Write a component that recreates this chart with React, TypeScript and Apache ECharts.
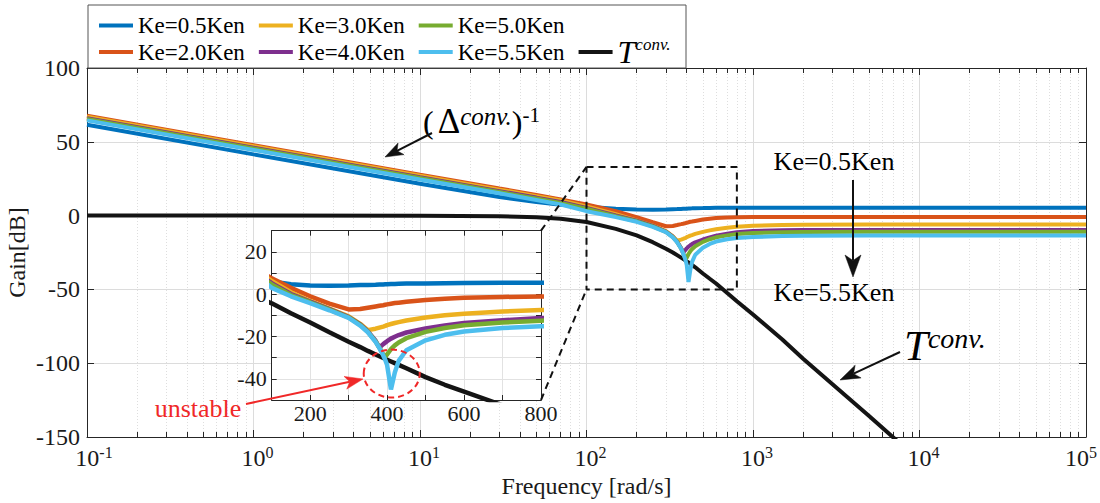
import React, { useEffect, useRef } from 'react';
import * as echarts from 'echarts';

// ---------------- data ----------------
const freq = [0.1, 1, 10, 30, 50, 70, 100, 150, 200, 250, 300, 330, 350, 370, 380, 390, 395, 400, 410, 420, 430, 450, 500, 550, 600, 700, 800, 1000, 1500, 2000, 5000, 10000, 100000];

const ke05 = [61.5, 41.5, 21.6, 12.6, 9.2, 7.4, 6.0, 4.7, 4.1, 4.0, 4.1, 4.3, 4.4, 4.5, 4.6, 4.6, 4.7, 4.7, 4.8, 4.8, 4.9, 5.0, 5.1, 5.2, 5.3, 5.4, 5.4, 5.4, 5.4, 5.4, 5.4, 5.4, 5.4];
const ke20 = [67.7, 47.7, 27.7, 18.3, 14.0, 11.0, 7.5, 3.0, -1.0, -4.5, -7.2, -7.0, -6.4, -5.8, -5.5, -5.2, -5.0, -4.8, -4.5, -4.2, -4.0, -3.6, -2.7, -2.1, -1.7, -1.3, -1.1, -1.0, -1.0, -1.0, -1.0, -1.0, -1.0];
const ke30 = [67.0, 47.0, 27.0, 17.6, 13.2, 10.2, 6.2, 0.9, -3.2, -6.8, -10.5, -14.0, -17.0, -16.3, -15.8, -15.3, -15.0, -14.6, -14.1, -13.6, -13.2, -12.4, -11.0, -10.0, -9.2, -8.2, -7.5, -6.9, -6.4, -6.2, -6.1, -6.1, -6.1];
const ke40 = [66.0, 46.0, 26.0, 16.6, 12.2, 9.2, 5.2, 0.1, -3.5, -7.0, -10.8, -14.3, -17.6, -22.0, -25.2, -23.6, -22.9, -22.2, -21.0, -20.1, -19.3, -18.1, -16.2, -14.8, -13.6, -12.3, -11.3, -10.5, -10.0, -9.8, -9.7, -9.7, -9.7];
const ke50 = [65.5, 45.5, 25.5, 16.0, 11.6, 8.5, 4.6, -0.4, -3.8, -7.3, -11.0, -14.5, -17.8, -22.3, -25.3, -28.5, -29.6, -28.4, -26.0, -24.2, -22.8, -20.8, -17.8, -16.0, -14.7, -13.4, -12.5, -11.8, -11.3, -11.1, -11.0, -11.0, -11.0];
const ke55 = [64.5, 44.5, 24.5, 15.1, 10.6, 7.5, 3.0, -1.0, -4.2, -7.6, -11.2, -14.8, -18.0, -22.5, -25.5, -29.0, -31.0, -33.5, -45.0, -37.0, -31.5, -26.5, -21.8, -19.2, -17.6, -16.0, -15.2, -14.5, -13.9, -13.7, -13.5, -13.5, -13.5];
const tconv = [0, 0, -0.05, -0.4, -1.1, -2.2, -4.3, -9.0, -13.4, -18.0, -22.5, -25.0, -26.8, -28.5, -29.3, -30.1, -30.5, -31.0, -31.8, -32.6, -33.4, -35.0, -39.2, -42.8, -46.0, -52.5, -58.0, -67.0, -84.0, -97.0, -136.0, -166.0, null];

const seriesNames = ['Ke=0.5Ken', 'Ke=2.0Ken', 'Ke=3.0Ken', 'Ke=4.0Ken', 'Ke=5.0Ken', 'Ke=5.5Ken'];
const seriesValues = [ke05, ke20, ke30, ke40, ke50, ke55];
const seriesColors = ['#0072BD', '#D95319', '#EDB120', '#7E2F8E', '#77AC30', '#4DBEEE'];
const tName = 'Tconv';
const tColor = '#141414';

const legendRow1 = ['Ke=0.5Ken', 'Ke=3.0Ken', 'Ke=5.0Ken'];
const legendRow2 = ['Ke=2.0Ken', 'Ke=4.0Ken', 'Ke=5.5Ken', tName];

// main axes
const mainX = [0.1, 100000];
const mainY = [-150, 100];
const mainYStep = 50;
// inset axes
const insetX = [100, 800];
const insetXStep = 100;
const insetY = [-50, 30];
const insetYStep = 10;
// zoom rectangle in main plot
const zoomBoxY = [-50, 33];

const FONT = 'Liberation Serif';
const TXT = '#1a1a1a';
const AX = '#262626';

function pairs(vals: (number | null)[]) {
  return freq.map((f, i) => [f, vals[i]]);
}

function arrow(x1: number, y1: number, x2: number, y2: number, color: string, lw: number, hl: number, hw: number) {
  const dx = x2 - x1, dy = y2 - y1;
  const L = Math.hypot(dx, dy);
  const ux = dx / L, uy = dy / L;
  const bx = x2 - ux * hl, by = y2 - uy * hl;
  const px = -uy, py = ux;
  const nx = x2 - ux * hl * 0.75, ny = y2 - uy * hl * 0.75;
  return [
    { type: 'line', z: 100, shape: { x1, y1, x2: nx, y2: ny }, style: { stroke: color, lineWidth: lw } },
    {
      type: 'polygon', z: 100,
      shape: { points: [[x2, y2], [bx + px * hw / 2, by + py * hw / 2], [nx, ny], [bx - px * hw / 2, by - py * hw / 2]] },
      style: { fill: color, stroke: color, lineWidth: 0.5 },
    },
  ];
}

export default function App() {
  const ref = useRef<HTMLDivElement>(null);
  useEffect(() => {
    const chart = echarts.init(ref.current!, null, { renderer: 'svg' });

    const logLabel = (v: number) => {
      const e = Math.round(Math.log10(v));
      if (e < 0) return `{bn|10}{s|${e}}`;
      if (e >= 5) return `{b|10}{se|${e}}`;
      return `{bp|10}{s|${e}}`;
    };

    const mainSeries: any[] = [];
    const insetSeries: any[] = [];
    mainSeries.push({
      name: tName, type: 'line', xAxisIndex: 0, yAxisIndex: 0, data: pairs(tconv), symbol: 'none',
      lineStyle: { width: 4, color: tColor }, itemStyle: { color: tColor }, z: 2,
    });
    insetSeries.push({
      name: tName, type: 'line', xAxisIndex: 2, yAxisIndex: 2, data: pairs(tconv), symbol: 'none',
      lineStyle: { width: 4.5, color: tColor }, itemStyle: { color: tColor }, z: 4,
    });
    seriesNames.forEach((n, i) => {
      mainSeries.push({
        name: n, type: 'line', xAxisIndex: 0, yAxisIndex: 0, data: pairs(seriesValues[i]), symbol: 'none',
        lineStyle: { width: 4, color: seriesColors[i] }, itemStyle: { color: seriesColors[i] }, z: 3,
      });
      insetSeries.push({
        name: n, type: 'line', xAxisIndex: 2, yAxisIndex: 2, data: pairs(seriesValues[i]), symbol: 'none',
        lineStyle: { width: 4.5, color: seriesColors[i] }, itemStyle: { color: seriesColors[i] }, z: 5,
      });
    });
    const zoomRect = {
      name: 'zoom', type: 'line', xAxisIndex: 0, yAxisIndex: 0, symbol: 'none', z: 8,
      data: [[insetX[0], zoomBoxY[1]], [insetX[1], zoomBoxY[1]], [insetX[1], zoomBoxY[0]], [insetX[0], zoomBoxY[0]], [insetX[0], zoomBoxY[1]]],
      lineStyle: { width: 2, color: '#111', type: [7, 5] }, silent: true,
    };

    const legendText = {
      fontFamily: FONT, fontSize: 23, color: '#000',
      rich: {
        t: { fontFamily: FONT, fontSize: 32, fontStyle: 'italic', color: '#000' },
        c: { fontFamily: FONT, fontSize: 17, fontStyle: 'italic', color: '#000', verticalAlign: 'top' },
      },
    };
    const legendCommon = {
      orient: 'horizontal', left: 99, padding: 0, itemWidth: 34, itemHeight: 4, itemGap: 14, icon: 'rect',
      textStyle: legendText, selectedMode: false,
      formatter: (name: string) => (name === tName ? '{t|T}{c|conv.}' : name),
    };

    const tickRich = {
      b: { fontFamily: FONT, fontSize: 24, color: TXT, lineHeight: 28 },
      bp: { fontFamily: FONT, fontSize: 24, color: TXT, lineHeight: 28, padding: [0, 0, 0, 8] },
      bn: { fontFamily: FONT, fontSize: 24, color: TXT, lineHeight: 28, padding: [0, 0, 0, 14] },
      s: { fontFamily: FONT, fontSize: 16, color: TXT, verticalAlign: 'top', lineHeight: 18 },
      se: { fontFamily: FONT, fontSize: 16, color: TXT, verticalAlign: 'top', lineHeight: 18, padding: [0, 10, 0, 0] },
    };

    const option: any = {
      animation: false,
      backgroundColor: '#fff',
      legend: [
        { ...legendCommon, top: 14, data: legendRow1 },
        { ...legendCommon, top: 36, data: legendRow2 },
      ],
      grid: [
        { left: 87, top: 68, width: 999, height: 369, outerBoundsMode: 'none', containLabel: false },
        { left: 271.7, top: 230.7, width: 269.3, height: 169.3, show: true, backgroundColor: '#fff', borderWidth: 0, z: 1, outerBoundsMode: 'none', containLabel: false },
      ],
      xAxis: [
        {
          type: 'log', logBase: 10, gridIndex: 0, min: mainX[0], max: mainX[1], position: 'bottom',
          axisLine: { show: true, onZero: false, lineStyle: { color: AX, width: 1 } },
          axisTick: { show: true, inside: true, length: 7, lineStyle: { color: AX } },
          minorTick: { show: true, splitNumber: 9, length: 5, lineStyle: { color: AX } },
          splitLine: { show: true, lineStyle: { color: '#dcdcdc', width: 1 } },
          minorSplitLine: { show: true, lineStyle: { color: '#dedede', width: 1, type: [1, 2] } },
          axisLabel: {
            formatter: logLabel, margin: 7, color: TXT, showMinLabel: true, showMaxLabel: true, hideOverlap: false,
            rich: tickRich,
          },
          name: 'Frequency [rad/s]', nameLocation: 'middle', nameGap: 37, nameMoveOverlap: false,
          nameTextStyle: { fontFamily: FONT, fontSize: 24, color: TXT },
        },
        {
          type: 'log', logBase: 10, gridIndex: 0, min: mainX[0], max: mainX[1], position: 'top',
          axisLine: { show: true, onZero: false, lineStyle: { color: AX, width: 1 } },
          axisTick: { show: true, inside: true, length: 7, lineStyle: { color: AX } },
          minorTick: { show: true, splitNumber: 9, length: 5, lineStyle: { color: AX } },
          axisLabel: { show: false }, splitLine: { show: false }, minorSplitLine: { show: false },
        },
        {
          type: 'value', gridIndex: 1, min: insetX[0], max: insetX[1], interval: insetXStep, position: 'bottom', z: 2,
          axisLine: { show: true, onZero: false, lineStyle: { color: AX, width: 1 } },
          axisTick: { show: true, inside: true, length: 5, lineStyle: { color: AX } },
          splitLine: { show: true, lineStyle: { color: '#e2e2e2', width: 1 } },
          axisLabel: {
            formatter: (v: number) => (v % 200 === 0 ? String(v) : ''), margin: 2, color: TXT,
            fontFamily: FONT, fontSize: 22, showMinLabel: true, showMaxLabel: true, hideOverlap: false,
          },
        },
        {
          type: 'value', gridIndex: 1, min: insetX[0], max: insetX[1], interval: insetXStep, position: 'top', z: 2,
          axisLine: { show: true, onZero: false, lineStyle: { color: AX, width: 1 } },
          axisTick: { show: true, inside: true, length: 5, lineStyle: { color: AX } },
          axisLabel: { show: false }, splitLine: { show: false },
        },
      ],
      yAxis: [
        {
          type: 'value', gridIndex: 0, min: mainY[0], max: mainY[1], interval: mainYStep, position: 'left',
          axisLine: { show: true, onZero: false, lineStyle: { color: AX, width: 1 } },
          axisTick: { show: true, inside: true, length: 7, lineStyle: { color: AX } },
          splitLine: { show: true, lineStyle: { color: '#dcdcdc', width: 1 } },
          axisLabel: { margin: 7, color: TXT, fontFamily: FONT, fontSize: 24, showMinLabel: true, showMaxLabel: true, hideOverlap: false },
          name: 'Gain[dB]', nameLocation: 'middle', nameGap: 58, nameMoveOverlap: false,
          nameTextStyle: { fontFamily: FONT, fontSize: 24, color: TXT },
        },
        {
          type: 'value', gridIndex: 0, min: mainY[0], max: mainY[1], interval: mainYStep, position: 'right',
          axisLine: { show: true, onZero: false, lineStyle: { color: AX, width: 1 } },
          axisTick: { show: true, inside: true, length: 7, lineStyle: { color: AX } },
          axisLabel: { show: false }, splitLine: { show: false },
        },
        {
          type: 'value', gridIndex: 1, min: insetY[0], max: insetY[1], interval: insetYStep, position: 'left', z: 2,
          axisLine: { show: true, onZero: false, lineStyle: { color: AX, width: 1 } },
          axisTick: { show: true, inside: true, length: 5, lineStyle: { color: AX } },
          splitLine: { show: true, lineStyle: { color: '#e2e2e2', width: 1 } },
          axisLabel: {
            formatter: (v: number) => (v % 20 === 0 ? String(v) : ''), margin: 5, color: TXT,
            fontFamily: FONT, fontSize: 22, showMinLabel: true, showMaxLabel: true, hideOverlap: false,
          },
        },
        {
          type: 'value', gridIndex: 1, min: insetY[0], max: insetY[1], interval: insetYStep, position: 'right', z: 2,
          axisLine: { show: true, onZero: false, lineStyle: { color: AX, width: 1 } },
          axisTick: { show: true, inside: true, length: 5, lineStyle: { color: AX } },
          axisLabel: { show: false }, splitLine: { show: false },
        },
      ],
      series: [...mainSeries, zoomRect, ...insetSeries],
    };
    chart.setOption(option);

    // connectors from zoom box to inset
    const pBoxTL = chart.convertToPixel({ xAxisIndex: 0, yAxisIndex: 0 }, [insetX[0], zoomBoxY[1]]) as number[];
    const pBoxBL = chart.convertToPixel({ xAxisIndex: 0, yAxisIndex: 0 }, [insetX[0], zoomBoxY[0]]) as number[];
    const pInTR = chart.convertToPixel({ xAxisIndex: 2, yAxisIndex: 2 }, [insetX[1], insetY[1]]) as number[];
    const pInBR = chart.convertToPixel({ xAxisIndex: 2, yAxisIndex: 2 }, [insetX[1], insetY[0]]) as number[];
    const pCircle = chart.convertToPixel({ xAxisIndex: 2, yAxisIndex: 2 }, [412, -37.5]) as number[];

    const dashed = { stroke: '#111', lineWidth: 2, lineDash: [7, 5] };
    const red = '#f02828';
    const graphic: any[] = [
      { type: 'rect', z: 50, shape: { x: 88, y: 5, width: 598, height: 63 }, style: { fill: 'none', stroke: '#555', lineWidth: 1 } },
      { type: 'line', z: 60, shape: { x1: pInTR[0], y1: pInTR[1], x2: pBoxTL[0], y2: pBoxTL[1] }, style: dashed },
      { type: 'line', z: 60, shape: { x1: pInBR[0], y1: pInBR[1], x2: pBoxBL[0], y2: pBoxBL[1] }, style: dashed },
      {
        type: 'ellipse', z: 100, shape: { cx: pCircle[0], cy: pCircle[1], rx: 28, ry: 24 },
        style: { fill: 'none', stroke: red, lineWidth: 2, lineDash: [6, 4] },
      },
      {
        type: 'text', z: 100, x: 423, y: 104,
        style: {
          text: '{p|(}{d|Δ}{c|conv.}{p|)}{e|-1}', verticalAlign: 'top', align: 'left',
          rich: {
            p: { fontFamily: FONT, fontSize: 32, fill: '#000' },
            d: { fontFamily: FONT, fontSize: 35, fill: '#000', padding: [0, 0, 0, 4] },
            c: { fontFamily: FONT, fontSize: 25, fontStyle: 'italic', fill: '#000', verticalAlign: 'top' },
            e: { fontFamily: FONT, fontSize: 21, fill: '#000', verticalAlign: 'top' },
          },
        },
      },
      ...arrow(432, 133, 385, 157, '#111', 2, 18, 13),
      {
        type: 'text', z: 100, x: 834, y: 161,
        style: { text: 'Ke=0.5Ken', fontFamily: FONT, fontSize: 26, fill: '#000', align: 'center', verticalAlign: 'middle' },
      },
      {
        type: 'text', z: 100, x: 834, y: 292,
        style: { text: 'Ke=5.5Ken', fontFamily: FONT, fontSize: 26, fill: '#000', align: 'center', verticalAlign: 'middle' },
      },
      ...arrow(853, 180, 853, 277, '#111', 2, 22, 16),
      {
        type: 'text', z: 100, x: 904, y: 324,
        style: {
          text: '{t|T}{c|conv.}', verticalAlign: 'top', align: 'left',
          rich: {
            t: { fontFamily: FONT, fontSize: 43, fontStyle: 'italic', fill: '#000' },
            c: { fontFamily: FONT, fontSize: 28, fontStyle: 'italic', fill: '#000', verticalAlign: 'top' },
          },
        },
      },
      ...arrow(900, 352, 840, 380, '#111', 2, 20, 14),
      {
        type: 'text', z: 100, x: 198, y: 408,
        style: { text: 'unstable', fontFamily: FONT, fontSize: 26, fill: red, align: 'center', verticalAlign: 'middle' },
      },
      ...arrow(246, 404, 363, 379, red, 2, 18, 13),
    ];
    chart.setOption({ graphic });

    return () => chart.dispose();
  }, []);
  return <div ref={ref} style={{ position: 'absolute', left: 0, top: 0, width: 1100, height: 503 }} />;
}
